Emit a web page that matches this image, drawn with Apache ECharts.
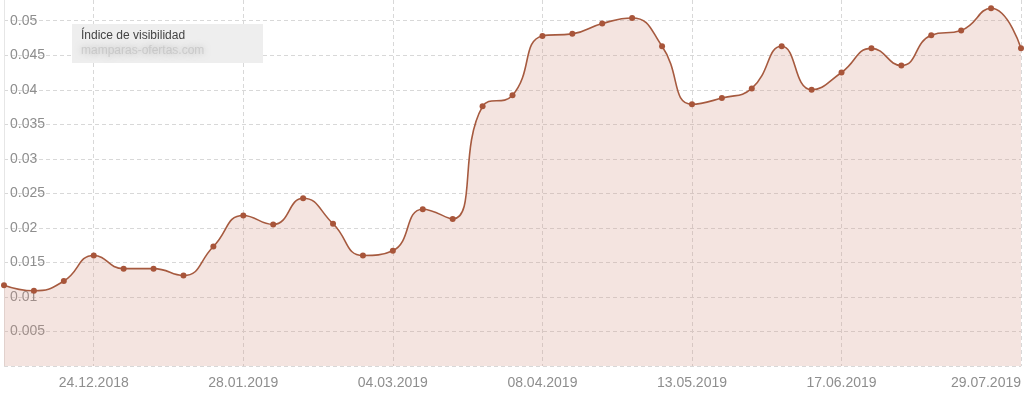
<!DOCTYPE html>
<html>
<head>
<meta charset="utf-8">
<script src="https://cdn.jsdelivr.net/npm/echarts@6/dist/echarts.min.js"></script>
<style>
html,body{margin:0;padding:0;background:#fff;}
#c{width:1024px;height:395px;}
</style>
</head>
<body>
<div id="c"></div>
<script>
var categories = ['03.12.2018','10.12.2018','17.12.2018','24.12.2018','31.12.2018','07.01.2019','14.01.2019','21.01.2019','28.01.2019','04.02.2019','11.02.2019','18.02.2019','25.02.2019','04.03.2019','11.03.2019','18.03.2019','25.03.2019','01.04.2019','08.04.2019','15.04.2019','22.04.2019','29.04.2019','06.05.2019','13.05.2019','20.05.2019','27.05.2019','03.06.2019','10.06.2019','17.06.2019','24.06.2019','01.07.2019','08.07.2019','15.07.2019','22.07.2019','29.07.2019'];
var visibility = [0.0117,0.0109,0.0123,0.0160,0.0141,0.0141,0.0131,0.0173,0.0218,0.0205,0.0243,0.0206,0.0160,0.0167,0.0227,0.0213,0.0376,0.0392,0.0478,0.0481,0.0496,0.0504,0.0463,0.0379,0.0388,0.0402,0.0463,0.0400,0.0425,0.0460,0.0435,0.0479,0.0486,0.0518,0.0460];
var shownLabels = ['24.12.2018','28.01.2019','04.03.2019','08.04.2019','13.05.2019','17.06.2019','29.07.2019'];
var seriesName = 'Índice de visibilidad';
var domainName = 'mamparas-ofertas.com';

var font = '"Liberation Sans", Arial, sans-serif';
function showIdx(i){ return shownLabels.indexOf(categories[i]) >= 0; }

var chart = echarts.init(document.getElementById('c'), null, {renderer:'canvas'});
chart.setOption({
  animation:false,
  backgroundColor:'#ffffff',
  grid:{left:4, right:3, top:0, bottom:29, containLabel:false},
  xAxis:{
    type:'category',
    data:categories,
    boundaryGap:false,
    axisLine:{show:false},
    axisTick:{show:false},
    axisLabel:{
      interval:function(i){return showIdx(i);},
      color:'#8e8e8e', fontFamily:font, fontSize:14, margin:10,
      alignMaxLabel:'right'
    },
    splitLine:{show:true, interval:function(i){return showIdx(i);},
      lineStyle:{color:'#d8d8d8', type:[4,3], width:1}}
  },
  yAxis:{
    type:'value',
    min:0, max:0.053, interval:0.005,
    axisLine:{show:true, lineStyle:{color:'#e6e6e6'}},
    axisTick:{show:false},
    axisLabel:{
      inside:true, margin:6, color:'#8e8e8e', fontFamily:font, fontSize:14,
      showMinLabel:false, showMaxLabel:false,
      formatter:function(v){return String(+v.toFixed(3));}
    },
    splitLine:{show:true, showMaxLine:false, lineStyle:{color:'#d8d8d8', type:[4,3], width:1}}
  },
  series:[{
    name:seriesName,
    type:'line',
    data:visibility,
    smooth:0.5,
    symbol:'circle',
    symbolSize:6,
    lineStyle:{color:'#a65a3f', width:1.6},
    itemStyle:{color:'#a8553a', borderWidth:0},
    areaStyle:{color:'rgba(211,149,130,0.36)'},
    z:2
  }],
  graphic:[
    {type:'rect', left:72, top:24, shape:{width:191, height:39}, style:{fill:'#eeeeee'}, z:10},
    {type:'text', left:81, top:30, style:{text:seriesName, fill:'#444444', font:'12px '+font}, z:11},
    {type:'text', left:81, top:45, style:{text:domainName, fill:'rgba(180,180,180,0.5)', font:'12px '+font, textShadowBlur:6, textShadowColor:'#8a8a8a'}, z:11}
  ]
});
</script>
</body>
</html>
